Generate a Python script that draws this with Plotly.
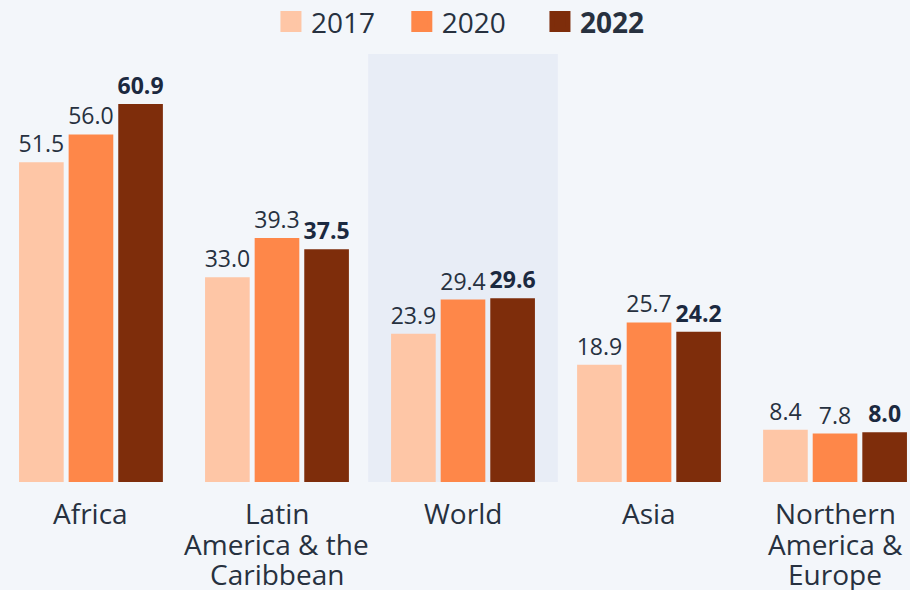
import plotly.graph_objects as go

categories = ["Africa", "Latin America & the Caribbean", "World", "Asia",
              "Northern America & Europe"]
category_lines = [["Africa"], ["Latin", "America & the", "Caribbean"], ["World"],
                  ["Asia"], ["Northern", "America &", "Europe"]]
years = ["2017", "2020", "2022"]
values_2017 = [51.5, 33.0, 23.9, 18.9, 8.4]
values_2020 = [56.0, 39.3, 29.4, 25.7, 7.8]
values_2022 = [60.9, 37.5, 29.6, 24.2, 8.0]

colors = ["#fec6a6", "#fe8749", "#7e2d0b"]
series = [values_2017, values_2020, values_2022]
legend_pad = [3, 4, 0]

BG = "#f3f6fa"
TEXT = "#27313f"
BOLD_TEXT = "#1b2940"
FONT = "Open Sans"
NBSP = "\u00a0"

fig = go.Figure()
x_idx = list(range(len(categories)))

for i, (yr, vals, col) in enumerate(zip(years, series, colors)):
    bold = yr == "2022"
    fig.add_trace(go.Bar(
        x=x_idx, y=vals, name=yr,
        marker=dict(color=col, line=dict(width=0)),
        text=[f"<b>{v:.1f}</b>" if bold else f"{v:.1f}" for v in vals],
        textposition="outside",
        textfont=dict(family=FONT, size=23, color=BOLD_TEXT if bold else TEXT),
        constraintext="none",
        cliponaxis=False,
        showlegend=False,
        hoverinfo="skip",
    ))
    # legend swatches
    label = (f"<b>{yr}</b>" if bold else yr) + NBSP * legend_pad[i]
    fig.add_trace(go.Scatter(
        x=[None], y=[None], mode="markers", name=label,
        marker=dict(symbol="square", size=16, color=col,
                    line=dict(color=col, width=5)),
    ))

# highlight band behind the World group
fig.add_shape(type="rect", xref="x", yref="paper", x0=1.49, x1=2.51, y0=0, y1=1,
              fillcolor="#e8edf6", line=dict(width=0), layer="below")

# category labels, one annotation per line for tighter line spacing
for i, lines in enumerate(category_lines):
    for k, line in enumerate(lines):
        fig.add_annotation(x=i, xref="x", y=0, yref="paper", yanchor="middle",
                           yshift=-31 - 30.5 * k, text=line, showarrow=False,
                           font=dict(family=FONT, size=28, color=TEXT))

fig.update_layout(
    width=910, height=590,
    paper_bgcolor=BG, plot_bgcolor=BG,
    margin=dict(l=0, r=0, t=54, b=108, autoexpand=False),
    barmode="group", bargap=0.2, bargroupgap=0.1,
    font=dict(family=FONT, color=TEXT),
    legend=dict(orientation="h", x=0.506, xanchor="center", yref="paper",
                y=1.075, yanchor="middle", font=dict(size=28, color=TEXT),
                itemsizing="trace", itemwidth=30),
    xaxis=dict(range=[-0.489, 4.403], tickvals=x_idx, showticklabels=False,
               showgrid=False, zeroline=False, showline=False, ticks=""),
    yaxis=dict(range=[0, 68.95], visible=False),
)

fig.write_html("out.html")
